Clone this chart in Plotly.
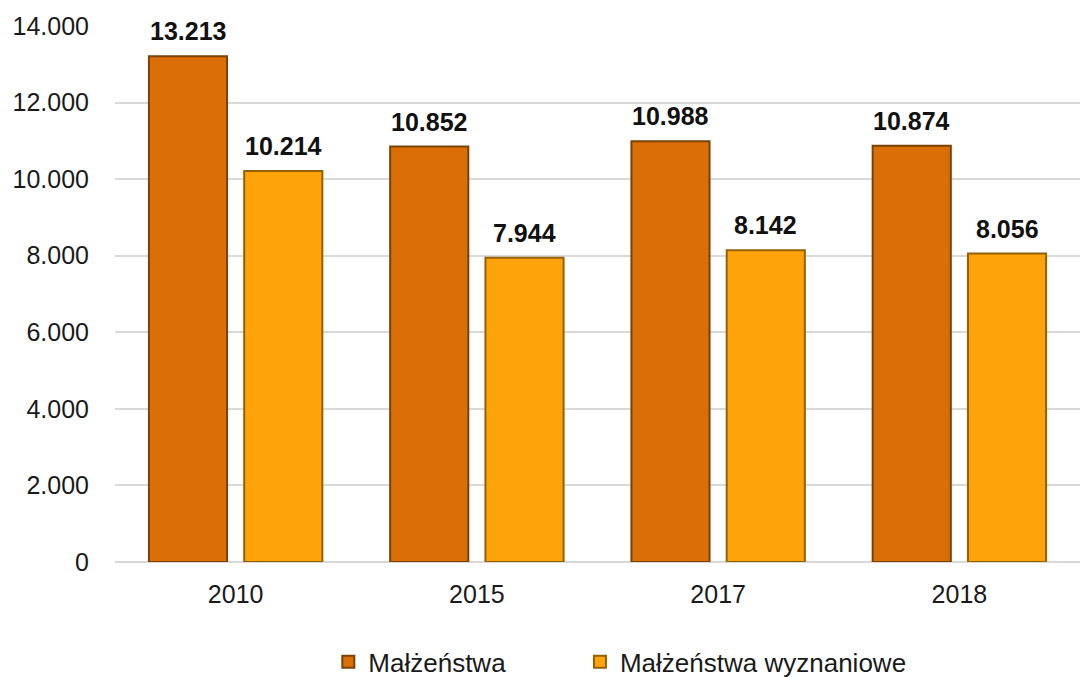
import plotly.graph_objects as go

years = ["2010", "2015", "2017", "2018"]
malzenstwa = [13213, 10852, 10988, 10874]
wyznaniowe = [10214, 7944, 8142, 8056]
series_names = ["Małżeństwa", "Małżeństwa wyznaniowe"]
y_ticks = [0, 2000, 4000, 6000, 8000, 10000, 12000, 14000]

W, H = 1080, 677
ML, MR, MT, MB = 115, 0, 26, 115
BARGAP, GROUPGAP = 0.21, 0.18

colors = ["#D96F06", "#FFA30A"]
edges = ["#7A4206", "#946008"]
legend_ids = ["legend", "legend2"]

fig = go.Figure()
for name, vals, c, e, lg in zip(series_names, [malzenstwa, wyznaniowe], colors, edges, legend_ids):
    fig.add_trace(go.Bar(
        x=years, y=vals, name=name, legend=lg,
        marker=dict(color=c, line=dict(color=e, width=2)),
    ))

# value labels above each bar; x is the category index (strings like "2010"
# would be read as index 2010 on a category axis), shifted onto its bar
cat_px = (W - ML - MR) / len(years)
slot_px = cat_px * (1 - BARGAP) / 2
for i, vals in enumerate([malzenstwa, wyznaniowe]):
    for j, v in enumerate(vals):
        fig.add_annotation(
            x=j, y=v, xref="x", yref="y",
            text="<b>" + f"{v:,}".replace(",", ".") + "</b>",
            showarrow=False, yanchor="bottom",
            xshift=(i - 0.5) * slot_px, yshift=9,
            font=dict(size=25, color="#111111", family="Liberation Sans"),
        )

# one legend per series so each entry sits where the reference has it
legend_style = dict(orientation="h", xref="container", yref="container",
                    y=0.057, xanchor="left", yanchor="top", font=dict(size=26))

fig.update_layout(
    width=W, height=H,
    margin=dict(l=ML, r=MR, t=MT, b=MB),
    barmode="group", bargap=BARGAP, bargroupgap=GROUPGAP,
    separators=",.",
    paper_bgcolor="white", plot_bgcolor="white",
    font=dict(family="Liberation Sans", size=25, color="#1a1a1a"),
    showlegend=True,
    legend=dict(x=0.304, **legend_style),
    legend2=dict(x=0.537, **legend_style),
)
fig.update_yaxes(
    range=[0, 14000], tickvals=y_ticks, tickformat=",d",
    showgrid=True, gridcolor="#D9D9D9", gridwidth=1.5,
    zeroline=True, zerolinecolor="#D9D9D9", zerolinewidth=1.5,
    ticks="outside", ticklen=20, tickcolor="white", automargin=False,
)
fig.update_xaxes(type="category", showgrid=False,
                 ticks="outside", ticklen=10, tickcolor="white", automargin=False)

# drop the default 8px body margin so the figure fills the window exactly
fig.write_html("out.html", config={"displayModeBar": False},
               post_script="document.body.style.margin='0';")
